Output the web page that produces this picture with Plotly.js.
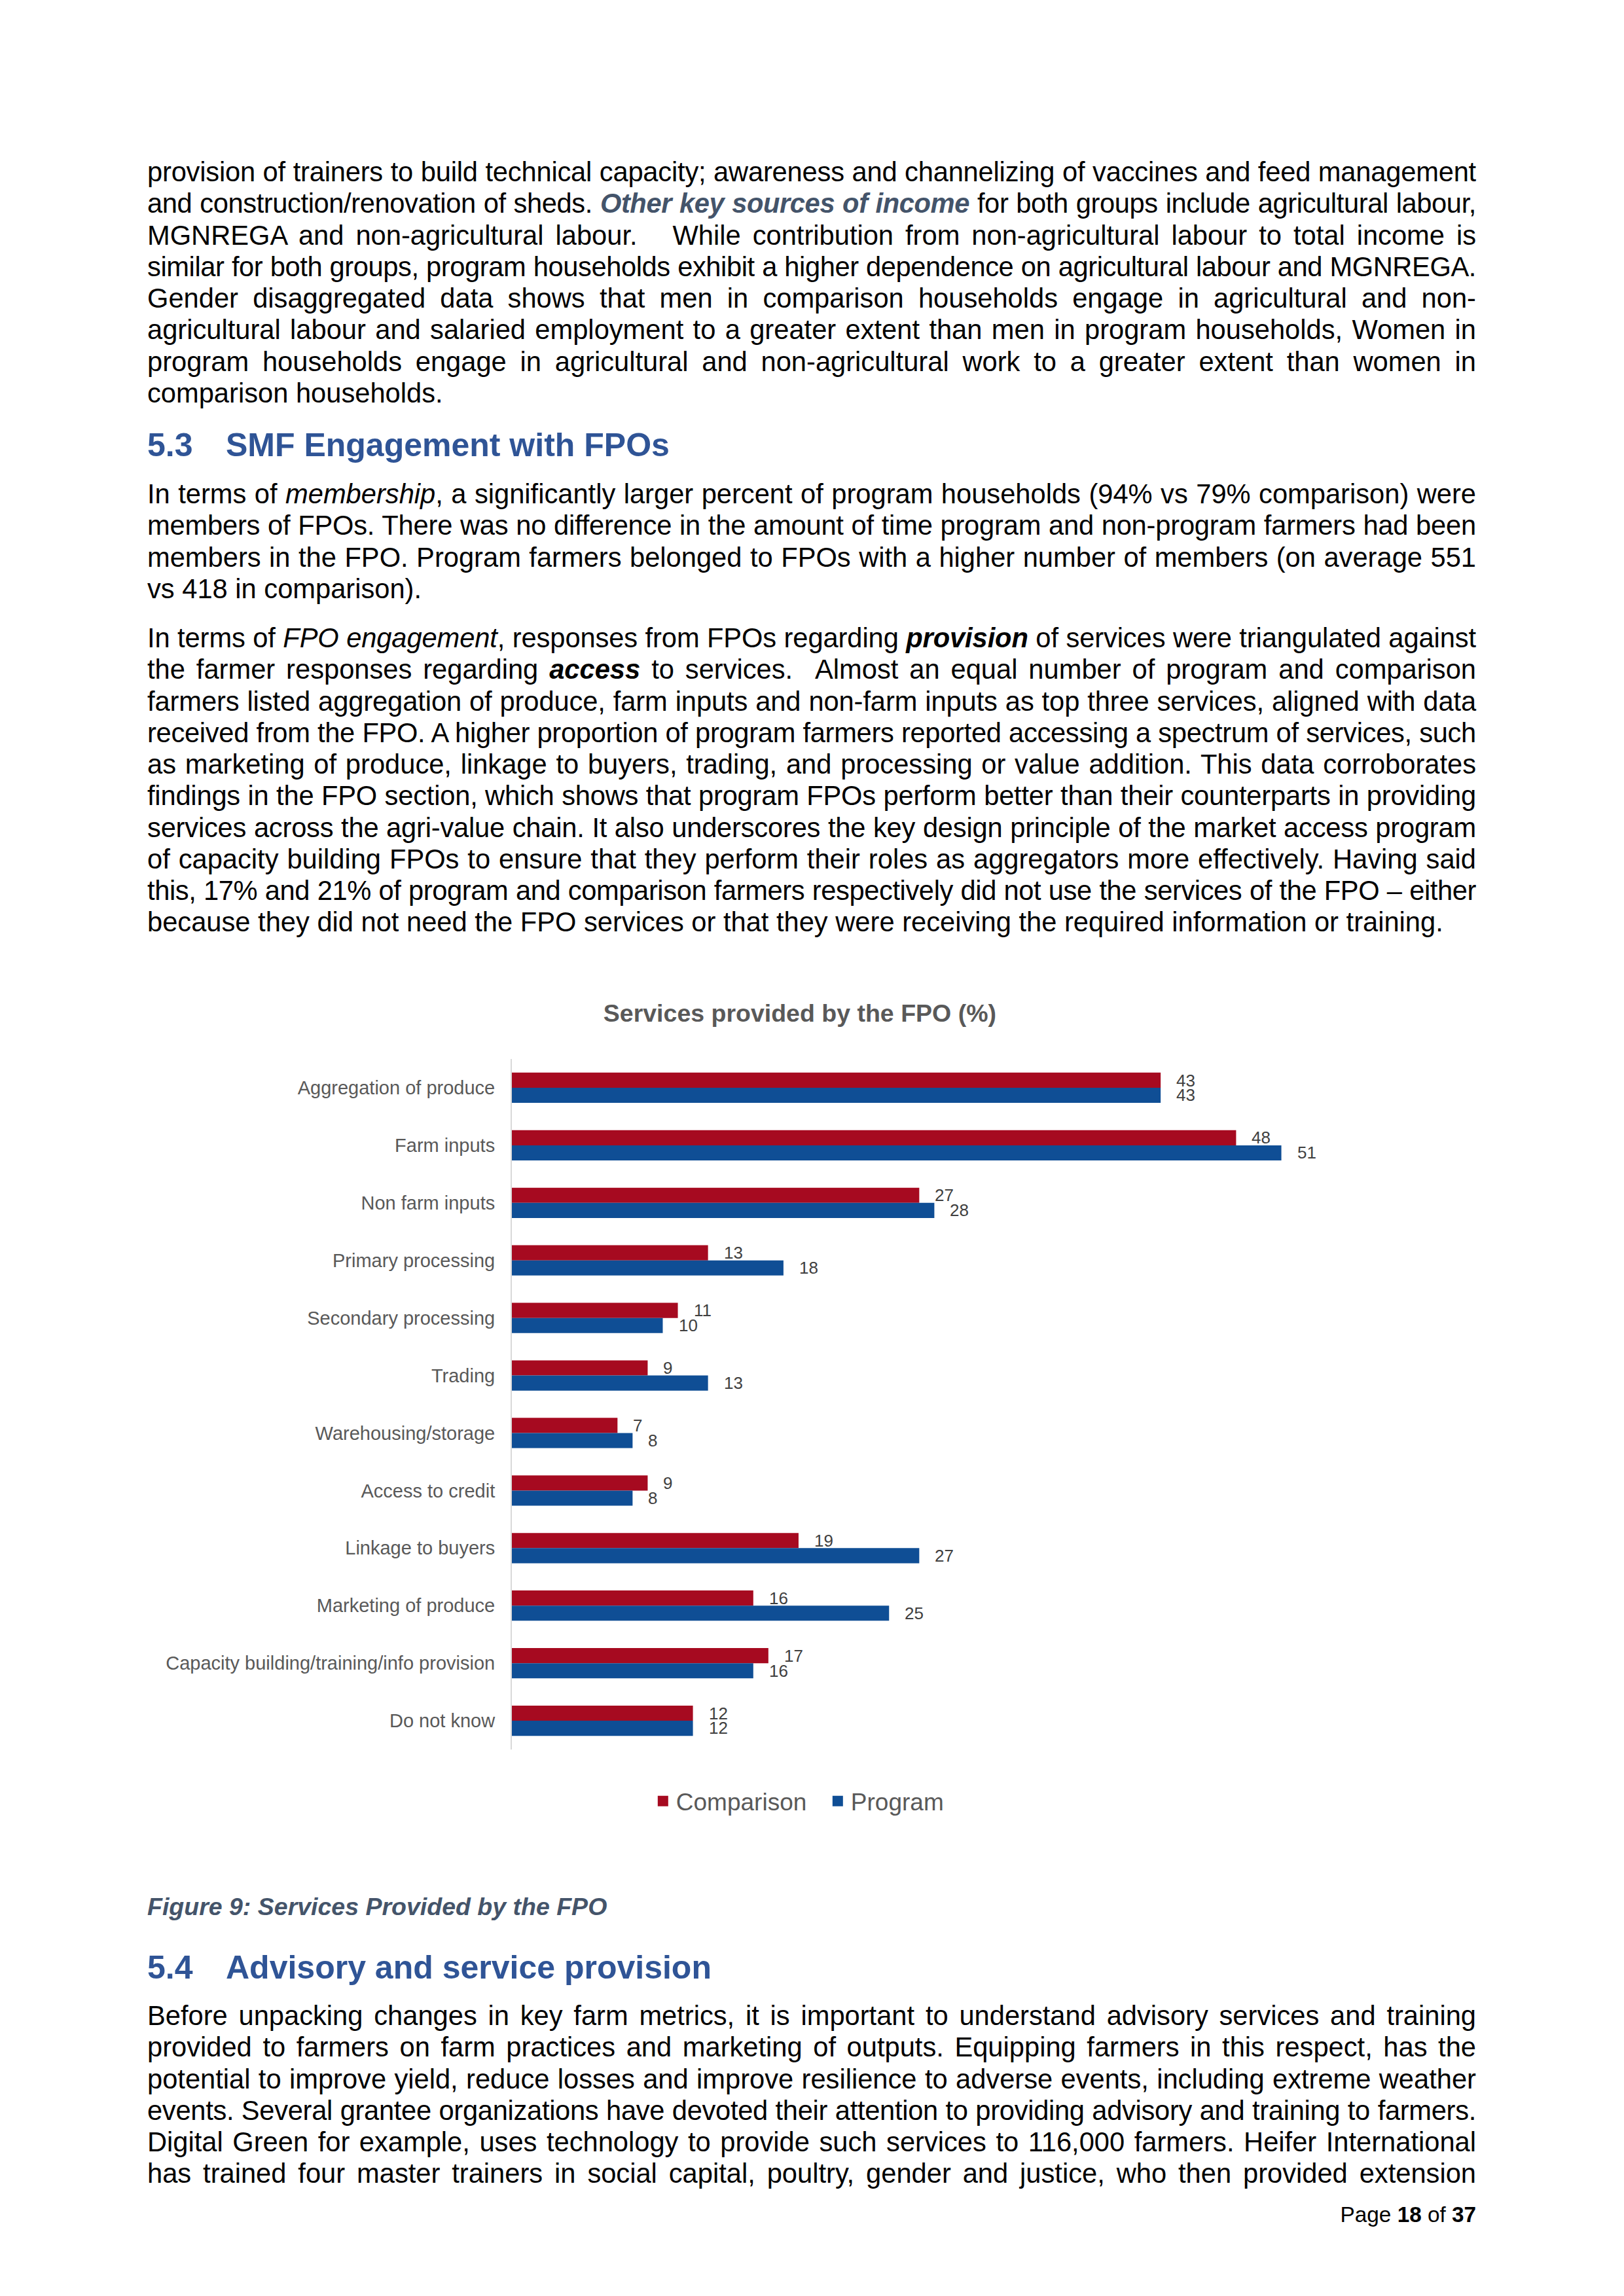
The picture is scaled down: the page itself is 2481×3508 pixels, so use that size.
<!DOCTYPE html>
<html>
<head>
<meta charset="utf-8">
<script src="https://cdn.plot.ly/plotly-3.0.1.min.js"></script>
<style>
body{margin:0;background:#fff;}
#page{position:relative;width:2481px;height:3508px;overflow:hidden;font-family:"Liberation Sans",Arial,sans-serif;color:#000;background:#fff;}
.para{position:absolute;left:225px;width:2030px;font-size:41.67px;}
.para div{height:48.25px;line-height:48.25px;text-align:justify;text-align-last:justify;}
.para div.last{text-align-last:left;}
.h{position:absolute;left:225px;font-size:50px;font-weight:bold;color:#2F5496;line-height:58px;white-space:nowrap;}
.h .n{display:inline-block;width:120px;}
.key{color:#44546A;font-weight:bold;font-style:italic;}
.cap{position:absolute;left:225px;font-size:37.5px;line-height:44px;font-weight:bold;font-style:italic;color:#44546A;}
.foot{position:absolute;right:226px;font-size:33.3px;line-height:40px;}
#chart{position:absolute;left:0;top:1450px;width:2481px;height:1400px;}
</style>
</head>
<body>
<div id="page">

<div class="para" style="top:239px">
<div>provision of trainers to build technical capacity; awareness and channelizing of vaccines and feed management</div>
<div>and construction/renovation of sheds. <span class="key">Other key sources of income</span> for both groups include agricultural labour,</div>
<div>MGNREGA and non-agricultural labour. &nbsp; While contribution from non-agricultural labour to total income is</div>
<div>similar for both groups, program households exhibit a higher dependence on agricultural labour and MGNREGA.</div>
<div>Gender disaggregated data shows that men in comparison households engage in agricultural and non-</div>
<div>agricultural labour and salaried employment to a greater extent than men in program households, Women in</div>
<div>program households engage in agricultural and non-agricultural work to a greater extent than women in</div>
<div class="last">comparison households.</div>
</div>

<div class="h" style="top:651px"><span class="n">5.3</span>SMF Engagement with FPOs</div>

<div class="para" style="top:731px">
<div>In terms of <i>membership</i>, a significantly larger percent of program households (94% vs 79% comparison) were</div>
<div>members of FPOs. There was no difference in the amount of time program and non-program farmers had been</div>
<div>members in the FPO. Program farmers belonged to FPOs with a higher number of members (on average 551</div>
<div class="last">vs 418 in comparison).</div>
</div>

<div class="para" style="top:951px">
<div>In terms of <i>FPO engagement</i>, responses from FPOs regarding <b><i>provision</i></b> of services were triangulated against</div>
<div>the farmer responses regarding <b><i>access</i></b> to services. &nbsp;Almost an equal number of program and comparison</div>
<div>farmers listed aggregation of produce, farm inputs and non-farm inputs as top three services, aligned with data</div>
<div>received from the FPO. A higher proportion of program farmers reported accessing a spectrum of services, such</div>
<div>as marketing of produce, linkage to buyers, trading, and processing or value addition. This data corroborates</div>
<div>findings in the FPO section, which shows that program FPOs perform better than their counterparts in providing</div>
<div>services across the agri-value chain. It also underscores the key design principle of the market access program</div>
<div>of capacity building FPOs to ensure that they perform their roles as aggregators more effectively. Having said</div>
<div>this, 17% and 21% of program and comparison farmers respectively did not use the services of the FPO – either</div>
<div class="last">because they did not need the FPO services or that they were receiving the required information or training.</div>
</div>

<div id="chart"></div>

<div class="cap" style="top:2891px">Figure 9: Services Provided by the FPO</div>

<div class="h" style="top:2977px"><span class="n">5.4</span>Advisory and service provision</div>

<div class="para" style="top:3056px">
<div>Before unpacking changes in key farm metrics, it is important to understand advisory services and training</div>
<div>provided to farmers on farm practices and marketing of outputs. Equipping farmers in this respect, has the</div>
<div>potential to improve yield, reduce losses and improve resilience to adverse events, including extreme weather</div>
<div>events. Several grantee organizations have devoted their attention to providing advisory and training to farmers.</div>
<div>Digital Green for example, uses technology to provide such services to 116,000 farmers. Heifer International</div>
<div>has trained four master trainers in social capital, poultry, gender and justice, who then provided extension</div>
</div>

<div class="foot" style="top:3364px">Page <b>18</b> of <b>37</b></div>

</div>

<script>
// squeeze any text line that would wrap so each stays on one line like the page
document.querySelectorAll('.para div').forEach(function (d) {
  d.style.height = 'auto';
  var ls = 0;
  while (d.offsetHeight > 60 && ls > -4) {
    ls -= 0.1;
    d.style.letterSpacing = ls.toFixed(2) + 'px';
  }
  d.style.height = '48.25px';
});

// Services provided by the FPO (%)
var categories = ['Aggregation of produce', 'Farm inputs', 'Non farm inputs', 'Primary processing',
  'Secondary processing', 'Trading', 'Warehousing/storage', 'Access to credit', 'Linkage to buyers',
  'Marketing of produce', 'Capacity building/training/info provision', 'Do not know'];
var comparison = [43, 48, 27, 13, 11, 9, 7, 9, 19, 16, 17, 12];
var program = [43, 51, 28, 18, 10, 13, 8, 8, 27, 25, 16, 12];
var seriesNames = ['Comparison', 'Program'];
var seriesColors = ['#A60A20', '#0F4E95'];

var font = '"Liberation Sans", Arial, sans-serif';

var trace1 = {
  y: categories, x: comparison, type: 'bar', orientation: 'h',
  name: seriesNames[0], marker: {color: seriesColors[0]}, showlegend: false
};
var trace2 = {
  y: categories, x: program, type: 'bar', orientation: 'h',
  name: seriesNames[1], marker: {color: seriesColors[1]}, showlegend: false
};
// legend keys only (bigger square swatches than the bar default)
var keys = seriesNames.map(function (n, i) {
  return {x: [null], y: [null], type: 'scatter', mode: 'markers', name: n,
    marker: {symbol: 'square', size: 16, color: seriesColors[i]}};
});

// value labels beside each bar
var notes = [];
var half = 11.4;
categories.forEach(function (c, i) {
  notes.push({x: comparison[i], y: c, text: String(comparison[i]), showarrow: false,
    xanchor: 'left', yanchor: 'middle', xshift: 22, yshift: half,
    font: {family: font, size: 26, color: '#404040'}});
  notes.push({x: program[i], y: c, text: String(program[i]), showarrow: false,
    xanchor: 'left', yanchor: 'middle', xshift: 22, yshift: -half,
    font: {family: font, size: 26, color: '#404040'}});
});

var layout = {
  width: 2481, height: 1400,
  margin: {l: 782, r: 316, t: 168, b: 177},
  paper_bgcolor: '#fff', plot_bgcolor: '#fff',
  font: {family: font, color: '#595959'},
  title: {text: '<b>Services provided by the FPO (%)</b>', xref: 'container', x: 0.4925,
    xanchor: 'center', yref: 'container', y: 0.930, yanchor: 'middle',
    font: {family: font, size: 37.5, color: '#595959'}},
  barmode: 'group', bargap: 0.474, bargroupgap: 0,
  xaxis: {range: [0, 60], showgrid: false, zeroline: false, showline: false,
    showticklabels: false, ticks: ''},
  yaxis: {autorange: false, range: [11.5, -0.5], showgrid: false, zeroline: false,
    showline: true, linecolor: '#d9d9d9', linewidth: 2, ticks: '',
    ticklabelstandoff: 18, tickfont: {family: font, size: 29, color: '#595959'}},
  showlegend: true,
  legend: {orientation: 'h', x: 0.3455, xanchor: 'center', y: -0.075, yanchor: 'middle',
    entrywidth: 222, entrywidthmode: 'pixels', itemsizing: 'trace',
    font: {family: font, size: 37, color: '#595959'}, traceorder: 'normal'},
  annotations: notes,
  hovermode: false
};

Plotly.newPlot('chart', [trace1, trace2].concat(keys), layout, {staticPlot: true, displayModeBar: false});
</script>
</body>
</html>
